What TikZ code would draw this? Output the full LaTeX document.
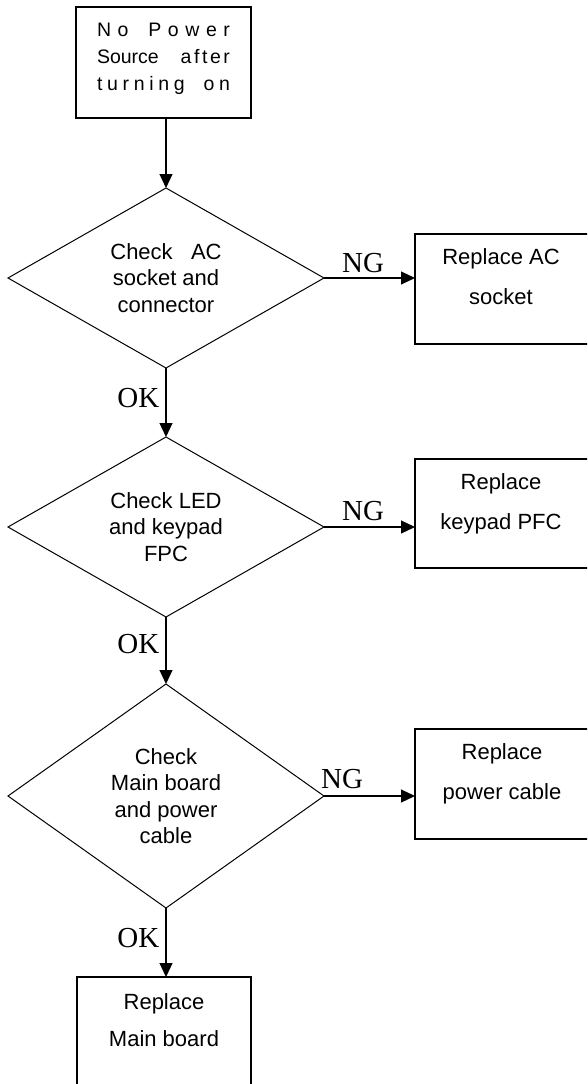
\documentclass[tikz,border=0pt]{standalone}
\usepackage{fontspec}
\setmainfont{Liberation Sans}
\newfontfamily\serifl{Liberation Serif}
\usetikzlibrary{shapes.geometric,arrows.meta}
\begin{document}
\begin{tikzpicture}[x=1pt,y=-1pt,
  procbox/.style={draw,rectangle,line width=1.1pt,inner sep=0pt,outer sep=0pt},
  decision/.style={draw,diamond,line width=1pt,inner sep=0pt,outer sep=0pt,align=center,
    font=\fontsize{22}{26.5}\selectfont},
  boxtext/.style={align=center,inner sep=0pt,font=\fontsize{22}{40}\selectfont},
  flowarrow/.style={line width=1.1pt,-{Triangle[length=14pt,width=13pt]}},
  yesno/.style={inner sep=0pt,font=\serifl\fontsize{29}{31}\selectfont}
]
\fill[white] (0,0) rectangle (587,1084);
\useasboundingbox (0,0) rectangle (587,1084);
\clip (0,0) rectangle (587,1084);

% start box
\node[procbox, minimum width=175pt, minimum height=111pt] (start) at (163.5,62.5) {};
\node[align=center, inner sep=0pt, font=\fontsize{19.5}{27}\selectfont] (starttext) at (163.5,58.5)
  {\makebox[133pt][s]{N\hfill o\hfill\hfill\hfill P\hfill o\hfill w\hfill e\hfill r}\\
   \makebox[133pt][s]{Source\hfill a\kern2.6pt f\kern2.6pt t\kern2.6pt e\kern2.6pt r}\\
   \makebox[133pt][s]{t\hfill u\hfill r\hfill n\hfill i\hfill n\hfill g\hfill\hfill\hfill\hfill o\hfill n}};

% decisions
\node[decision, minimum width=316pt, minimum height=180pt, aspect=1.75] (d1) at (166,278)
  {Check\ \ \ AC\\socket and\\connector};
\node[decision, minimum width=316pt, minimum height=180pt, aspect=1.75] (d2) at (166,527)
  {Check LED\\and keypad\\FPC};
\node[decision, minimum width=316pt, minimum height=224pt, aspect=1.41] (d3) at (166,796)
  {Check\\Main board\\and power\\cable};

% result boxes
\node[procbox, minimum width=174pt, minimum height=110pt] (r1) at (502,289) {};
\node[procbox, minimum width=174pt, minimum height=109pt] (r2) at (502,513.5) {};
\node[procbox, minimum width=174pt, minimum height=110pt] (r3) at (502,784) {};
\node[procbox, minimum width=174pt, minimum height=118pt] (r4) at (164,1036) {};

\node[boxtext] (r1t) at (501,277) {Replace AC\\socket};
\node[boxtext] (r2t) at (501,504) {Replace\\keypad PFC};
\node[boxtext] (r3t) at (502,773.5) {Replace\\power cable};
\node[boxtext, font=\fontsize{22}{37}\selectfont] (r4t) at (164,1020.5) {Replace\\Main board};

% connectors
\draw[flowarrow] (start.south -| d1.north) -- (d1.north);
\draw[flowarrow] (d1.east) -- (d1.east -| r1.west);
\draw[flowarrow] (d1.south) -- (d2.north);
\draw[flowarrow] (d2.east) -- (d2.east -| r2.west);
\draw[flowarrow] (d2.south) -- (d3.north);
\draw[flowarrow] (d3.east) -- (d3.east -| r3.west);
\draw[flowarrow] (d3.south) -- (d3.south |- r4.north);

% labels
\node[yesno, anchor=base west] (ng1) at (342,272) {NG};
\node[yesno, anchor=base west] (ng2) at (342,520) {NG};
\node[yesno, anchor=base west] (ng3) at (321,788) {NG};
\node[yesno, anchor=base east] (ok1) at (159.5,407) {OK};
\node[yesno, anchor=base east] (ok2) at (159.5,653) {OK};
\node[yesno, anchor=base east] (ok3) at (159.5,947) {OK};
\end{tikzpicture}
\end{document}
